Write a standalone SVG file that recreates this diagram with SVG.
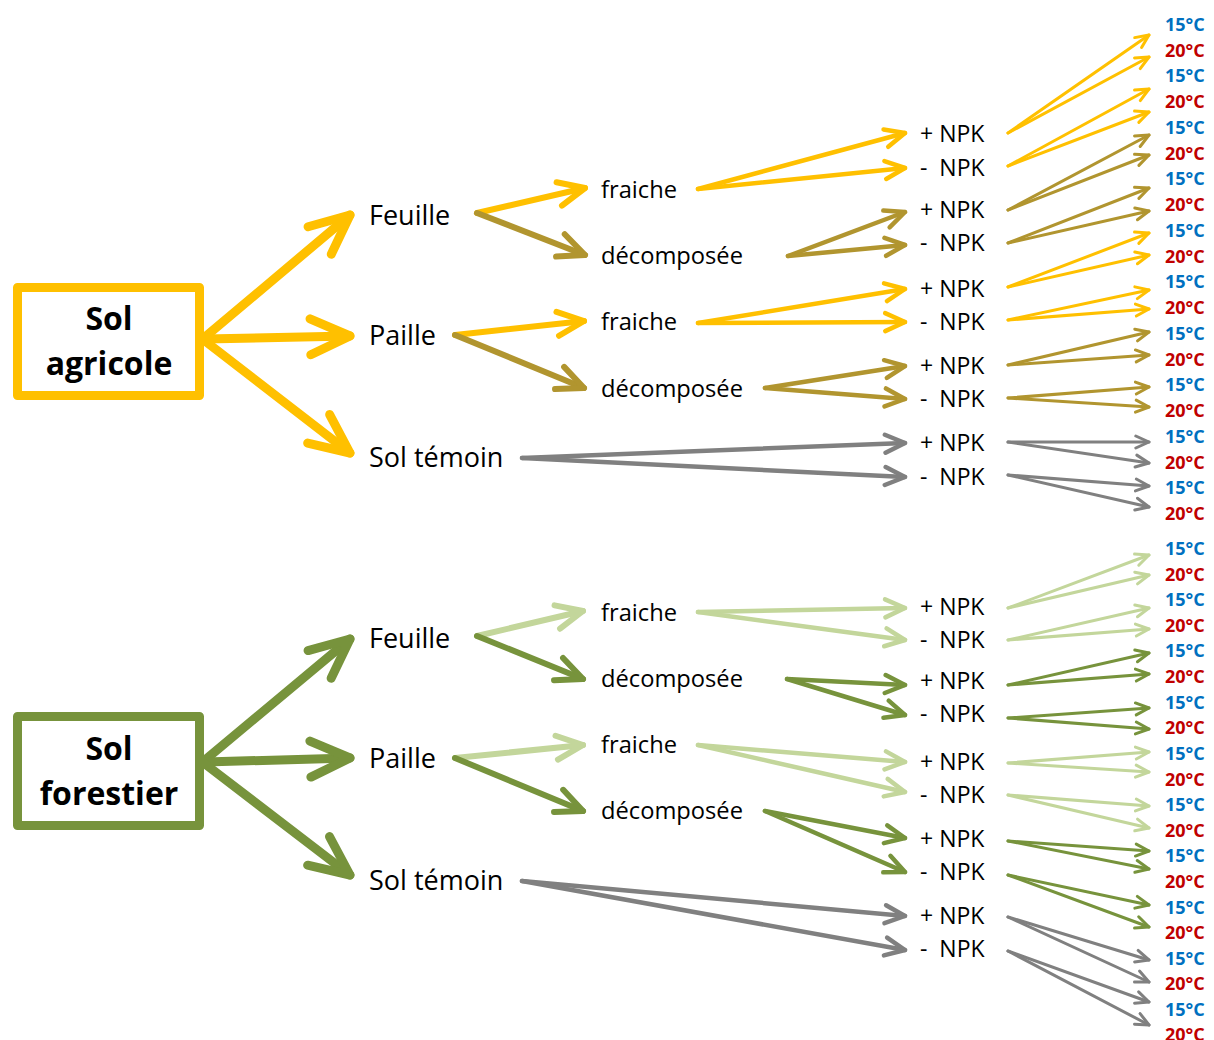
<svg xmlns="http://www.w3.org/2000/svg" width="1214" height="1040" viewBox="0 0 1214 1040">
<style>
.box{fill:#fff;stroke-width:9;stroke-linejoin:round}
.bt{font-family:"Open Sans","Noto Sans",sans-serif;font-weight:bold;font-size:32px;fill:#000;text-anchor:middle}
.l1{font-family:"Open Sans","Noto Sans",sans-serif;font-size:27px;fill:#000}
.l2{font-family:"Open Sans","Noto Sans",sans-serif;font-size:23.7px;fill:#000}
.l3{font-family:"Open Sans","Noto Sans",sans-serif;font-size:23px;fill:#000}
.t{font-family:"Open Sans","Noto Sans",sans-serif;font-weight:bold;font-size:18px}
.c15{fill:#0070C0}.c20{fill:#C00000}
line{fill:none;stroke-linecap:round}
.Y{stroke:#FFC000}.O{stroke:#B1952F}.G{stroke:#808080}.DG{stroke:#77933C}.LG{stroke:#C3D69B}
.w1{stroke-width:9}.w2{stroke-width:6}.w3{stroke-width:4.5}.w4{stroke-width:3}
.Y{marker-end:url(#mY)}.O{marker-end:url(#mO)}.G{marker-end:url(#mG)}.DG{marker-end:url(#mDG)}.LG{marker-end:url(#mLG)}
</style>
<defs>
<marker id="mY" viewBox="-5 -3 6 6" markerWidth="6" markerHeight="6" refX="0" refY="0" orient="auto" markerUnits="strokeWidth"><path d="M-4.4,-2 L0,0 L-4.4,2" fill="none" stroke="#FFC000" stroke-width="1" stroke-linecap="round" stroke-linejoin="round"/></marker>
<marker id="mO" viewBox="-5 -3 6 6" markerWidth="6" markerHeight="6" refX="0" refY="0" orient="auto" markerUnits="strokeWidth"><path d="M-4.4,-2 L0,0 L-4.4,2" fill="none" stroke="#B1952F" stroke-width="1" stroke-linecap="round" stroke-linejoin="round"/></marker>
<marker id="mG" viewBox="-5 -3 6 6" markerWidth="6" markerHeight="6" refX="0" refY="0" orient="auto" markerUnits="strokeWidth"><path d="M-4.4,-2 L0,0 L-4.4,2" fill="none" stroke="#808080" stroke-width="1" stroke-linecap="round" stroke-linejoin="round"/></marker>
<marker id="mDG" viewBox="-5 -3 6 6" markerWidth="6" markerHeight="6" refX="0" refY="0" orient="auto" markerUnits="strokeWidth"><path d="M-4.4,-2 L0,0 L-4.4,2" fill="none" stroke="#77933C" stroke-width="1" stroke-linecap="round" stroke-linejoin="round"/></marker>
<marker id="mLG" viewBox="-5 -3 6 6" markerWidth="6" markerHeight="6" refX="0" refY="0" orient="auto" markerUnits="strokeWidth"><path d="M-4.4,-2 L0,0 L-4.4,2" fill="none" stroke="#C3D69B" stroke-width="1" stroke-linecap="round" stroke-linejoin="round"/></marker>
</defs>
<rect width="1214" height="1040" fill="#fff"/>

<g id="connectors">
<!-- agricole level 1 -->
<line class="Y w1" x1="205" y1="337" x2="350" y2="215"/>
<line class="Y w1" x1="205" y1="339" x2="350" y2="336"/>
<line class="Y w1" x1="205" y1="341" x2="350" y2="453"/>
<!-- agricole level 2 -->
<line class="Y w2" x1="477" y1="213" x2="585" y2="188"/>
<line class="O w2" x1="477" y1="213" x2="585" y2="255"/>
<line class="Y w2" x1="455" y1="335" x2="584" y2="321"/>
<line class="O w2" x1="455" y1="335" x2="584" y2="388"/>
<!-- agricole level 3 -->
<line class="Y w3" x1="698" y1="189" x2="905" y2="133"/>
<line class="Y w3" x1="698" y1="189" x2="905" y2="168"/>
<line class="O w3" x1="788" y1="256" x2="905" y2="212"/>
<line class="O w3" x1="788" y1="256" x2="905" y2="245"/>
<line class="Y w3" x1="698" y1="323" x2="905" y2="289"/>
<line class="Y w3" x1="698" y1="323" x2="905" y2="322"/>
<line class="O w3" x1="765" y1="388" x2="905" y2="366"/>
<line class="O w3" x1="765" y1="388" x2="905" y2="399"/>
<line class="G w3" x1="522" y1="458" x2="905" y2="443"/>
<line class="G w3" x1="522" y1="458" x2="905" y2="477"/>
<!-- agricole level 4 -->
<line class="Y w4" x1="1008" y1="133" x2="1149" y2="35"/>
<line class="Y w4" x1="1008" y1="133" x2="1149" y2="57"/>
<line class="Y w4" x1="1008" y1="166" x2="1149" y2="89"/>
<line class="Y w4" x1="1008" y1="166" x2="1149" y2="112"/>
<line class="O w4" x1="1008" y1="210" x2="1149" y2="135"/>
<line class="O w4" x1="1008" y1="210" x2="1149" y2="155"/>
<line class="O w4" x1="1008" y1="243" x2="1149" y2="188"/>
<line class="O w4" x1="1008" y1="243" x2="1149" y2="211"/>
<line class="Y w4" x1="1008" y1="287" x2="1149" y2="233"/>
<line class="Y w4" x1="1008" y1="287" x2="1149" y2="255"/>
<line class="Y w4" x1="1008" y1="320" x2="1149" y2="290"/>
<line class="Y w4" x1="1008" y1="320" x2="1149" y2="309"/>
<line class="O w4" x1="1008" y1="365" x2="1149" y2="332"/>
<line class="O w4" x1="1008" y1="365" x2="1149" y2="355"/>
<line class="O w4" x1="1008" y1="398" x2="1149" y2="387"/>
<line class="O w4" x1="1008" y1="398" x2="1149" y2="407"/>
<line class="G w4" x1="1008" y1="442" x2="1149" y2="442"/>
<line class="G w4" x1="1008" y1="442" x2="1149" y2="463"/>
<line class="G w4" x1="1008" y1="475" x2="1149" y2="486"/>
<line class="G w4" x1="1008" y1="475" x2="1149" y2="507"/>

<!-- forestier level 1 -->
<line class="DG w1" x1="205" y1="760" x2="350" y2="639"/>
<line class="DG w1" x1="205" y1="762" x2="350" y2="758"/>
<line class="DG w1" x1="205" y1="764" x2="350" y2="875"/>
<!-- forestier level 2 -->
<line class="LG w2" x1="477" y1="636" x2="583" y2="611"/>
<line class="DG w2" x1="477" y1="636" x2="583" y2="679"/>
<line class="LG w2" x1="455" y1="758" x2="583" y2="745"/>
<line class="DG w2" x1="455" y1="758" x2="583" y2="811"/>
<!-- forestier level 3 -->
<line class="LG w3" x1="698" y1="612" x2="905" y2="608"/>
<line class="LG w3" x1="698" y1="612" x2="905" y2="640"/>
<line class="DG w3" x1="787" y1="679" x2="905" y2="685"/>
<line class="DG w3" x1="787" y1="679" x2="905" y2="715"/>
<line class="LG w3" x1="698" y1="745" x2="905" y2="762"/>
<line class="LG w3" x1="698" y1="745" x2="905" y2="792"/>
<line class="DG w3" x1="765" y1="811" x2="905" y2="838"/>
<line class="DG w3" x1="765" y1="811" x2="905" y2="872"/>
<line class="G w3" x1="522" y1="881" x2="905" y2="916"/>
<line class="G w3" x1="522" y1="881" x2="905" y2="950"/>
<!-- forestier level 4 -->
<line class="LG w4" x1="1008" y1="608" x2="1149" y2="555"/>
<line class="LG w4" x1="1008" y1="608" x2="1149" y2="575"/>
<line class="LG w4" x1="1008" y1="640" x2="1149" y2="608"/>
<line class="LG w4" x1="1008" y1="640" x2="1149" y2="629"/>
<line class="DG w4" x1="1008" y1="685" x2="1149" y2="653"/>
<line class="DG w4" x1="1008" y1="685" x2="1149" y2="674"/>
<line class="DG w4" x1="1008" y1="718" x2="1149" y2="708"/>
<line class="DG w4" x1="1008" y1="718" x2="1149" y2="729"/>
<line class="LG w4" x1="1008" y1="763" x2="1149" y2="752"/>
<line class="LG w4" x1="1008" y1="763" x2="1149" y2="772"/>
<line class="LG w4" x1="1008" y1="795" x2="1149" y2="806"/>
<line class="LG w4" x1="1008" y1="795" x2="1149" y2="828"/>
<line class="DG w4" x1="1008" y1="841" x2="1149" y2="851"/>
<line class="DG w4" x1="1008" y1="841" x2="1149" y2="869"/>
<line class="DG w4" x1="1008" y1="875" x2="1149" y2="905"/>
<line class="DG w4" x1="1008" y1="875" x2="1149" y2="927"/>
<line class="G w4" x1="1008" y1="917" x2="1149" y2="960"/>
<line class="G w4" x1="1008" y1="917" x2="1149" y2="982"/>
<line class="G w4" x1="1008" y1="951" x2="1149" y2="1002"/>
<line class="G w4" x1="1008" y1="951" x2="1149" y2="1025"/>
</g>

<g id="sol-agricole">
<rect class="box" x="17.5" y="287.5" width="182" height="108" stroke="#FFC000"/>
<text class="bt" x="109" y="330">Sol</text>
<text class="bt" x="109" y="375">agricole</text>
</g>
<g id="sol-forestier">
<rect class="box" x="17.5" y="716.5" width="182" height="109" stroke="#77933C"/>
<text class="bt" x="109" y="760">Sol</text>
<text class="bt" x="109" y="805">forestier</text>
</g>

<g id="agri-feuille"><text class="l1" x="369" y="225">Feuille</text></g>
<g id="agri-paille"><text class="l1" x="369" y="345">Paille</text></g>
<g id="agri-temoin"><text class="l1" x="369" y="467">Sol témoin</text></g>
<g id="agri-feuille-fraiche"><text class="l2" x="601" y="198">fraiche</text></g>
<g id="agri-feuille-decomp"><text class="l2" x="601" y="264">décomposée</text></g>
<g id="agri-paille-fraiche"><text class="l2" x="601" y="330">fraiche</text></g>
<g id="agri-paille-decomp"><text class="l2" x="601" y="397">décomposée</text></g>

<g id="for-feuille"><text class="l1" x="369" y="648">Feuille</text></g>
<g id="for-paille"><text class="l1" x="369" y="768">Paille</text></g>
<g id="for-temoin"><text class="l1" x="369" y="890">Sol témoin</text></g>
<g id="for-feuille-fraiche"><text class="l2" x="601" y="621">fraiche</text></g>
<g id="for-feuille-decomp"><text class="l2" x="601" y="687">décomposée</text></g>
<g id="for-paille-fraiche"><text class="l2" x="601" y="753">fraiche</text></g>
<g id="for-paille-decomp"><text class="l2" x="601" y="819">décomposée</text></g>

<g id="npk">
<text class="l3" x="920" y="142" xml:space="preserve">+ NPK</text>
<text class="l3" x="920" y="176" xml:space="preserve">-  NPK</text>
<text class="l3" x="920" y="218" xml:space="preserve">+ NPK</text>
<text class="l3" x="920" y="251" xml:space="preserve">-  NPK</text>
<text class="l3" x="920" y="297" xml:space="preserve">+ NPK</text>
<text class="l3" x="920" y="330" xml:space="preserve">-  NPK</text>
<text class="l3" x="920" y="374" xml:space="preserve">+ NPK</text>
<text class="l3" x="920" y="407" xml:space="preserve">-  NPK</text>
<text class="l3" x="920" y="451" xml:space="preserve">+ NPK</text>
<text class="l3" x="920" y="485" xml:space="preserve">-  NPK</text>
<text class="l3" x="920" y="615" xml:space="preserve">+ NPK</text>
<text class="l3" x="920" y="648" xml:space="preserve">-  NPK</text>
<text class="l3" x="920" y="689" xml:space="preserve">+ NPK</text>
<text class="l3" x="920" y="722" xml:space="preserve">-  NPK</text>
<text class="l3" x="920" y="770" xml:space="preserve">+ NPK</text>
<text class="l3" x="920" y="803" xml:space="preserve">-  NPK</text>
<text class="l3" x="920" y="847" xml:space="preserve">+ NPK</text>
<text class="l3" x="920" y="880" xml:space="preserve">-  NPK</text>
<text class="l3" x="920" y="924" xml:space="preserve">+ NPK</text>
<text class="l3" x="920" y="957" xml:space="preserve">-  NPK</text>
</g>

<g id="temperatures">
<text class="t c15" x="1165" y="31">15°C</text>
<text class="t c20" x="1165" y="57">20°C</text>
<text class="t c15" x="1165" y="82">15°C</text>
<text class="t c20" x="1165" y="108">20°C</text>
<text class="t c15" x="1165" y="134">15°C</text>
<text class="t c20" x="1165" y="160">20°C</text>
<text class="t c15" x="1165" y="185">15°C</text>
<text class="t c20" x="1165" y="211">20°C</text>
<text class="t c15" x="1165" y="237">15°C</text>
<text class="t c20" x="1165" y="263">20°C</text>
<text class="t c15" x="1165" y="288">15°C</text>
<text class="t c20" x="1165" y="314">20°C</text>
<text class="t c15" x="1165" y="340">15°C</text>
<text class="t c20" x="1165" y="366">20°C</text>
<text class="t c15" x="1165" y="391">15°C</text>
<text class="t c20" x="1165" y="417">20°C</text>
<text class="t c15" x="1165" y="443">15°C</text>
<text class="t c20" x="1165" y="469">20°C</text>
<text class="t c15" x="1165" y="494">15°C</text>
<text class="t c20" x="1165" y="520">20°C</text>
<text class="t c15" x="1165" y="555">15°C</text>
<text class="t c20" x="1165" y="581">20°C</text>
<text class="t c15" x="1165" y="606">15°C</text>
<text class="t c20" x="1165" y="632">20°C</text>
<text class="t c15" x="1165" y="657">15°C</text>
<text class="t c20" x="1165" y="683">20°C</text>
<text class="t c15" x="1165" y="709">15°C</text>
<text class="t c20" x="1165" y="734">20°C</text>
<text class="t c15" x="1165" y="760">15°C</text>
<text class="t c20" x="1165" y="786">20°C</text>
<text class="t c15" x="1165" y="811">15°C</text>
<text class="t c20" x="1165" y="837">20°C</text>
<text class="t c15" x="1165" y="862">15°C</text>
<text class="t c20" x="1165" y="888">20°C</text>
<text class="t c15" x="1165" y="914">15°C</text>
<text class="t c20" x="1165" y="939">20°C</text>
<text class="t c15" x="1165" y="965">15°C</text>
<text class="t c20" x="1165" y="990">20°C</text>
<text class="t c15" x="1165" y="1016">15°C</text>
<text class="t c20" x="1165" y="1041">20°C</text>
</g>
</svg>
